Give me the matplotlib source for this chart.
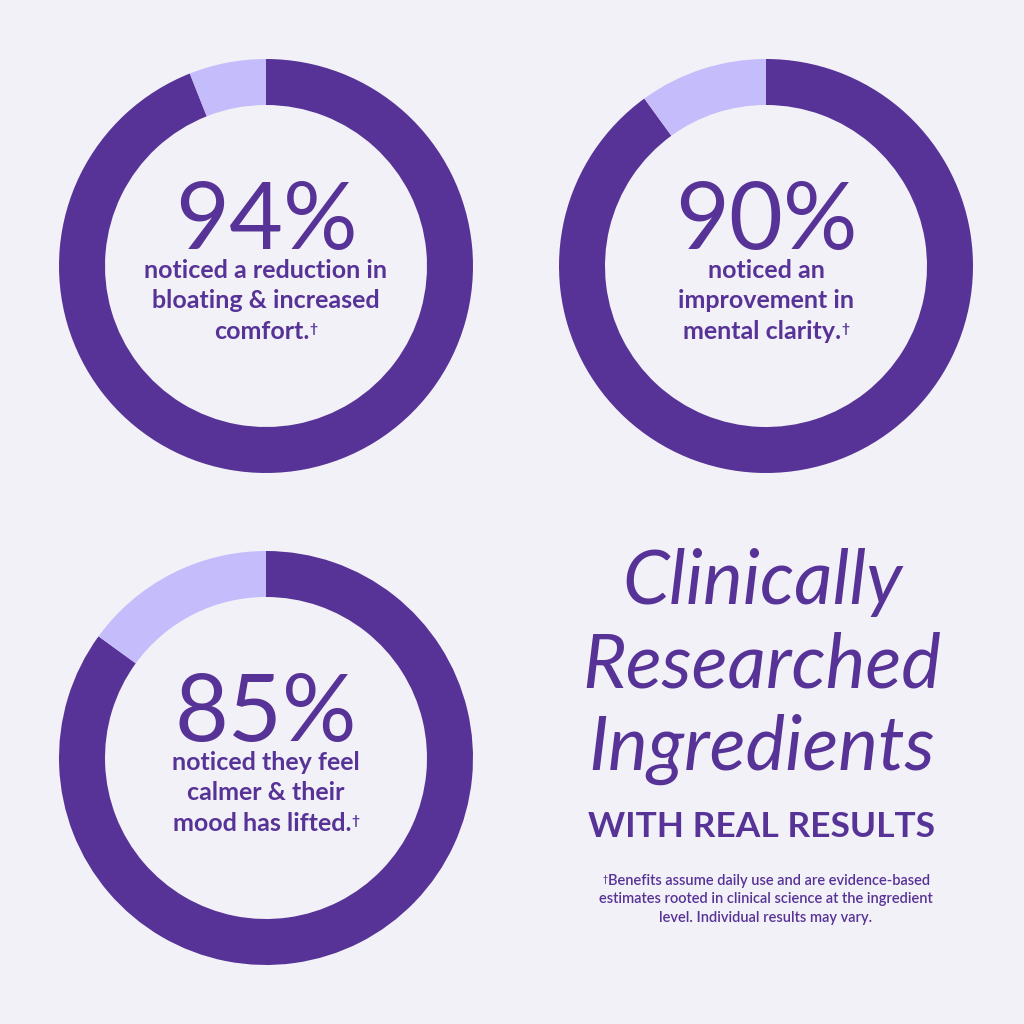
import matplotlib
matplotlib.use("Agg")
import matplotlib.pyplot as plt

# ---- data ----
percentages = [94, 90, 85]
big_labels = ["94%", "90%", "85%"]
captions = [
    ["noticed a reduction in", "bloating & increased", "comfort."],
    ["noticed an", "improvement in", "mental clarity."],
    ["noticed they feel", "calmer & their", "mood has lifted."],
]
title_lines = ["Clinically", "Researched", "Ingredients"]
subtitle = "WITH REAL RESULTS"
footnote_lines = [
    "Benefits assume daily use and are evidence-based",
    "estimates rooted in clinical science at the ingredient",
    "level. Individual results may vary.",
]
DAGGER = "\u2020"

DARK = "#573397"
LIGHT = "#c5bcfc"
BG = "#f2f1f7"
FONT = ["Lato", "DejaVu Sans"]

W = 1024
fig = plt.figure(figsize=(10.24, 10.24), dpi=100, facecolor=BG)
base = fig.add_axes([0, 0, 1, 1])
base.set_xlim(0, W)
base.set_ylim(W, 0)
base.axis("off")
base.set_facecolor(BG)
renderer = fig.canvas.get_renderer()


def text_width(s, size, weight):
    t = base.text(0, 0, s, fontsize=size, family=FONT, fontweight=weight)
    w = t.get_window_extent(renderer).width
    t.remove()
    return w


def draw_parts(xc, yb, parts, weight):
    """parts: list of (text, size, raise_px) drawn left to right, centred on xc."""
    widths = [text_width(s, sz, weight) for s, sz, _ in parts]
    x = xc - sum(widths) / 2
    for (s, sz, rise), w in zip(parts, widths):
        base.text(x, yb - rise, s, fontsize=sz, family=FONT, fontweight=weight,
                  color=DARK, ha="left", va="baseline")
        x += w


centers = [(266, 266), (766, 266), (266, 758)]
R = 207
ring = 46
CAP = 18

for (cx, cy), pct, big, cap in zip(centers, percentages, big_labels, captions):
    ax = fig.add_axes([(cx - R) / W, 1 - (cy + R) / W, 2 * R / W, 2 * R / W])
    ax.pie([pct, 100 - pct], colors=[DARK, LIGHT], startangle=90,
           counterclock=False, radius=1,
           wedgeprops=dict(width=ring / R, linewidth=0))
    ax.set_xlim(-1, 1)
    ax.set_ylim(-1, 1)
    ax.set_aspect("equal")
    ax.axis("off")
    base.text(cx, cy - 17, big, ha="center", va="baseline", fontsize=67,
              color=DARK, family=FONT, fontweight="normal")
    for i, line in enumerate(cap):
        yb = cy + 12 + 30.5 * i
        if i == len(cap) - 1:
            draw_parts(cx, yb, [(line, CAP, 0), (DAGGER, 10, 6)], "bold")
        else:
            draw_parts(cx, yb, [(line, CAP, 0)], "bold")

tx = 762
for i, line in enumerate(title_lines):
    base.text(tx, 604 + 83 * i, line, ha="center", va="baseline", fontsize=54,
              color=DARK, family=FONT, style="italic", fontweight="normal")
base.text(tx, 837, subtitle, ha="center", va="baseline", fontsize=25.5,
          color=DARK, family=FONT, fontweight="bold")
for i, line in enumerate(footnote_lines):
    yb = 885 + 18.5 * i
    if i == 0:
        draw_parts(766, yb, [(DAGGER, 6.5, 3), (line, 10.5, 0)], "semibold")
    else:
        draw_parts(766, yb, [(line, 10.5, 0)], "semibold")

fig.savefig("out.png", dpi=100, facecolor=BG)
